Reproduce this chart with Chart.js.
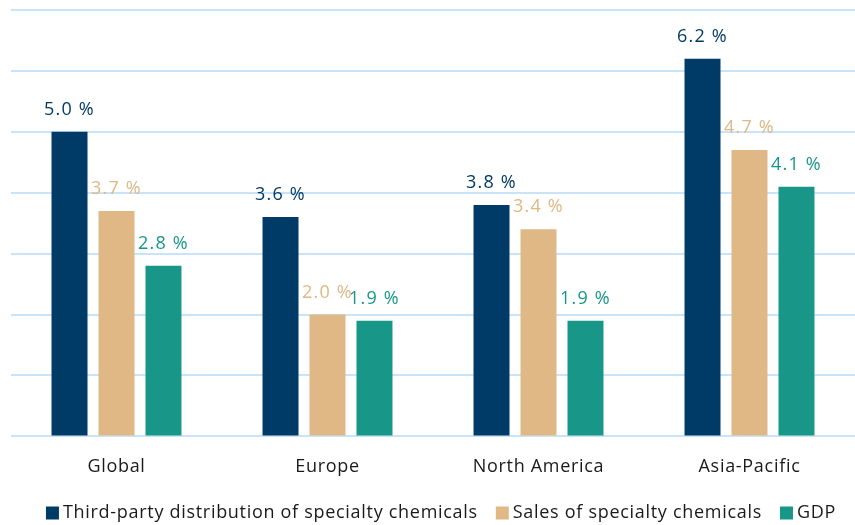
<!DOCTYPE html>
<html>
<head>
<meta charset="utf-8">
<script src="https://cdn.jsdelivr.net/npm/chart.js@4"></script>
<style>
  html, body { margin: 0; padding: 0; background: #ffffff; }
  #wrap { width: 855px; height: 525px; }
</style>
</head>
<body>
<div id="wrap"><canvas id="chart" width="855" height="525"></canvas></div>
<script>
// Annual growth rates (%) by region
const regions = ['Global', 'Europe', 'North America', 'Asia-Pacific'];
const seriesNames = [
  'Third-party distribution of specialty chemicals',
  'Sales of specialty chemicals',
  'GDP'
];
const distributionGrowth = [5.0, 3.6, 3.8, 6.2];
const salesGrowth = [3.7, 2.0, 3.4, 4.7];
const gdpGrowth = [2.8, 1.9, 1.9, 4.1];
const seriesColors = ['#003B67', '#E0B886', '#189789'];

const FONT = '"Open Sans", "Noto Sans", sans-serif';
const TEXT_COLOR = '#1a1a1a';

// Slightly tracked-out lettering for all canvas text
const tracking = {
  id: 'tracking',
  beforeUpdate(chart) { chart.ctx.letterSpacing = '0.7px'; },
  beforeDraw(chart) { chart.ctx.letterSpacing = '0.7px'; }
};

// Writes "x.x %" above each bar, in the colour of its series
const valueLabels = {
  id: 'valueLabels',
  afterDatasetsDraw(chart) {
    const ctx = chart.ctx;
    ctx.save();
    ctx.letterSpacing = '1.2px';
    ctx.font = '18px ' + FONT;
    ctx.textAlign = 'center';
    ctx.textBaseline = 'middle';
    chart.data.datasets.forEach((ds, i) => {
      const meta = chart.getDatasetMeta(i);
      ctx.fillStyle = ds.backgroundColor;
      meta.data.forEach((bar, j) => {
        const v = ds.data[j];
        ctx.fillText(v.toFixed(1) + ' %', bar.x, bar.y - 22);
      });
    });
    ctx.restore();
  }
};

// Single-row legend under the category labels: square swatch, then the name
const bottomLegend = {
  id: 'bottomLegend',
  afterDraw(chart) {
    const ctx = chart.ctx;
    const box = 13, boxGap = 4, itemGap = 18;
    ctx.save();
    ctx.letterSpacing = '0.7px';
    ctx.font = '18px ' + FONT;
    ctx.textBaseline = 'middle';
    ctx.textAlign = 'left';
    const widths = seriesNames.map(n => ctx.measureText(n).width);
    const total = widths.reduce((a, w) => a + box + boxGap + w, 0) + itemGap * (seriesNames.length - 1);
    const area = chart.chartArea;
    let x = (area.left + area.right) / 2 - total / 2 + 8;
    const y = 513;
    seriesNames.forEach((name, i) => {
      ctx.fillStyle = seriesColors[i];
      ctx.fillRect(x, y - box / 2, box, box);
      x += box + boxGap;
      ctx.fillStyle = TEXT_COLOR;
      ctx.fillText(name, x, y);
      x += widths[i] + itemGap;
    });
    ctx.restore();
  }
};

const values = [distributionGrowth, salesGrowth, gdpGrowth];

new Chart(document.getElementById('chart'), {
  type: 'bar',
  data: {
    labels: regions,
    datasets: seriesNames.map((name, i) => ({
      label: name,
      data: values[i],
      backgroundColor: seriesColors[i],
      borderWidth: 0,
      categoryPercentage: 0.668,
      barPercentage: 0.766
    }))
  },
  options: {
    responsive: false,
    animation: false,
    devicePixelRatio: 1,
    layout: { padding: { left: 11, right: 0, top: 10, bottom: 27 } },
    plugins: {
      legend: { display: false },
      tooltip: { enabled: false }
    },
    scales: {
      x: {
        grid: { display: false, drawTicks: false },
        border: { display: false },
        ticks: {
          color: TEXT_COLOR,
          padding: 20,
          font: { family: FONT, size: 18 }
        }
      },
      y: {
        min: 0,
        max: 7,
        grid: { color: '#C9E4F8', lineWidth: 2, drawTicks: false },
        border: { display: false },
        ticks: { display: false, stepSize: 1 }
      }
    }
  },
  plugins: [tracking, valueLabels, bottomLegend]
});
</script>
</body>
</html>
